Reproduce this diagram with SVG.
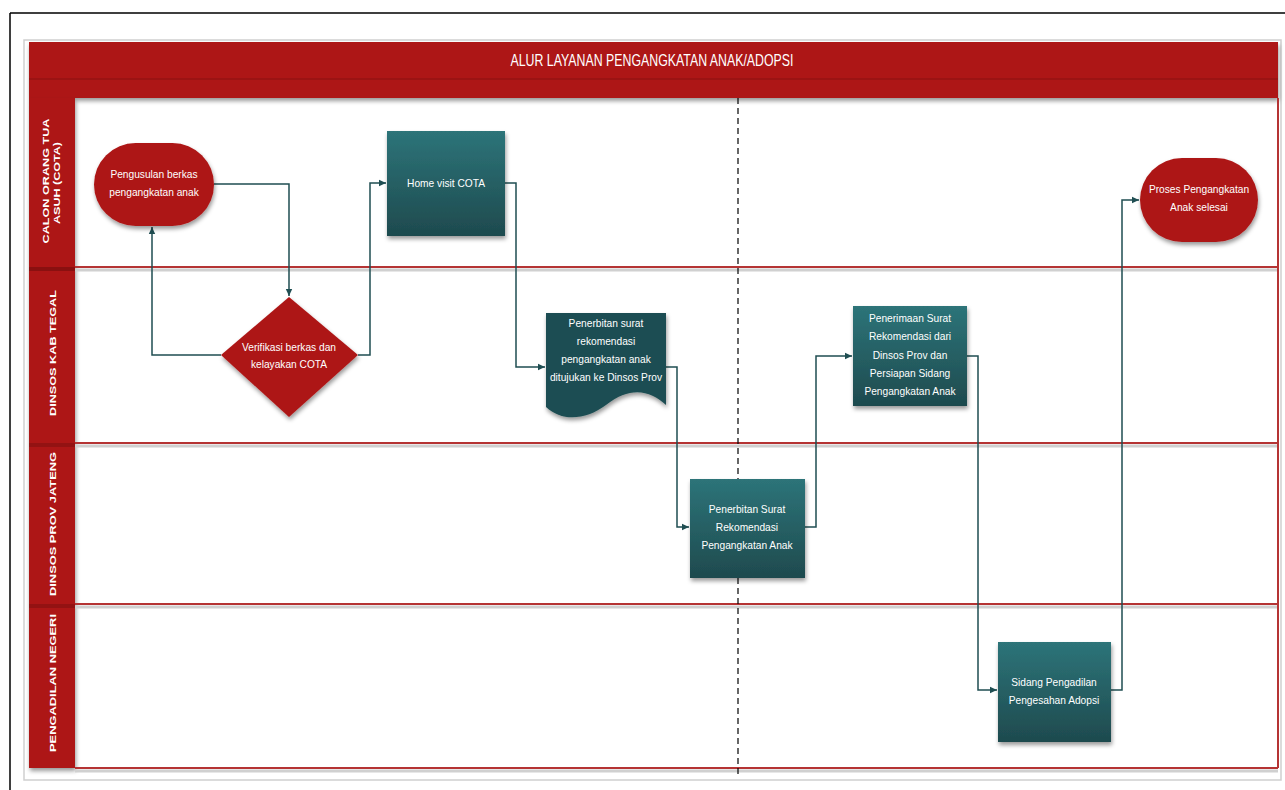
<svg xmlns="http://www.w3.org/2000/svg" width="1285" height="790" viewBox="0 0 1285 790">
<style>
.red{fill:#AD1717}
.teal{fill:url(#tg)}
.nt{font-family:"Liberation Sans",Arial,sans-serif;font-size:10.2px;fill:#fff;text-anchor:middle}
.lt{font-family:"Liberation Sans",Arial,sans-serif;font-size:9px;font-weight:bold;fill:#fff;text-anchor:middle}
.lane{stroke:#B53434;stroke-width:2;fill:none}
.lsh{stroke:#d0d0d0;stroke-width:3;fill:none}
.con{stroke:#1F4E52;stroke-width:1.5;fill:none;marker-end:url(#ah)}
</style>
<defs>
<linearGradient id="tg" x1="0" y1="0" x2="0" y2="1">
<stop offset="0" stop-color="#2D7479"/>
<stop offset="1" stop-color="#1E4A4E"/>
</linearGradient>
<filter id="sh" x="-20%" y="-20%" width="140%" height="150%">
<feDropShadow dx="1" dy="3" stdDeviation="2" flood-color="#000" flood-opacity="0.4"/>
</filter>
<marker id="ah" markerWidth="8" markerHeight="8" refX="7" refY="4" orient="auto" markerUnits="userSpaceOnUse">
<path d="M0,0.8 L7,4 L0,7.2 Z" fill="#1F4E52"/>
</marker>
</defs>
<rect x="0" y="0" width="1285" height="790" fill="#fff"/>
<path d="M10,13 H1285 M10,13 V790" stroke="#000" stroke-width="1.5" fill="none"/>
<rect x="24" y="40" width="1257" height="740" fill="#fff" stroke="#cfcfcf" stroke-width="1.5"/>
<g id="pool">
<rect x="29" y="42" width="1249" height="56" class="red" filter="url(#sh)"/>
<line x1="29" y1="79" x2="1278" y2="79" stroke="#8A1111" stroke-width="1.2"/>
<text x="652" y="66" font-family="Liberation Sans,Arial,sans-serif" font-size="17" fill="#fff" text-anchor="middle" textLength="283" lengthAdjust="spacingAndGlyphs">ALUR LAYANAN PENGANGKATAN ANAK/ADOPSI</text>
<rect x="29" y="98" width="46" height="670" class="red" filter="url(#sh)"/>
<rect x="29" y="267" width="46" height="4" fill="#7A0E0E" opacity="0.7"/>
<rect x="29" y="443" width="46" height="4" fill="#7A0E0E" opacity="0.5"/>
<rect x="29" y="604" width="46" height="4" fill="#7A0E0E" opacity="0.5"/>
<path class="lsh" d="M75,270 H1278 M75,446 H1278 M75,607 H1278 M75,771 H1278"/>
<path class="lane" d="M75,267 H1278 M75,443 H1278 M75,604 H1278 M75,768 H1278 M1278,98 V768"/>
<line x1="738" y1="98" x2="738" y2="776" stroke="#000" stroke-width="1.2" stroke-dasharray="6,4"/>
</g>
<g id="lane-labels">
<text class="lt" transform="translate(49,181) rotate(-90)" textLength="125" lengthAdjust="spacingAndGlyphs">CALON ORANG TUA</text>
<text class="lt" transform="translate(60,183) rotate(-90)" textLength="82" lengthAdjust="spacingAndGlyphs">ASUH (COTA)</text>
<text class="lt" transform="translate(56,353) rotate(-90)" textLength="126" lengthAdjust="spacingAndGlyphs">DINSOS KAB TEGAL</text>
<text class="lt" transform="translate(56,524) rotate(-90)" textLength="144" lengthAdjust="spacingAndGlyphs">DINSOS PROV JATENG</text>
<text class="lt" transform="translate(56,683) rotate(-90)" textLength="138" lengthAdjust="spacingAndGlyphs">PENGADILAN NEGERI</text>
</g>
<g id="connectors">
<path class="con" d="M214,184 H289 V296"/>
<path class="con" d="M221,355 H152 V227"/>
<path class="con" d="M358,355 H370 V183 H386"/>
<path class="con" d="M505,183 H516 V367 H545"/>
<path class="con" d="M666,367 H677 V527 H689"/>
<path class="con" d="M805,527 H816 V356 H852"/>
<path class="con" d="M967,356 H978 V690 H997"/>
<path class="con" d="M1111,690 H1122 V200 H1139"/>
</g>
<g id="n1">
<rect x="94" y="143" width="120" height="83" rx="41.5" class="red" filter="url(#sh)"/>
<text class="nt" x="154" y="178">Pengusulan berkas</text>
<text class="nt" x="154" y="196">pengangkatan anak</text>
</g>
<g id="n2">
<rect x="387" y="131" width="118" height="105" class="teal" filter="url(#sh)"/>
<text class="nt" x="446" y="187">Home visit COTA</text>
</g>
<g id="n3">
<path d="M289,297 L358,355 L289,417 L221,355 Z" class="red" filter="url(#sh)"/>
<text class="nt" x="289" y="351">Verifikasi berkas dan</text>
<text class="nt" x="289" y="368">kelayakan COTA</text>
</g>
<g id="n4">
<path d="M546,313 H666 V405 C650,390 630,386 606,405 C586,420 562,422 546,407 Z" fill="#1F4E52" filter="url(#sh)"/>
<text class="nt" x="606" y="327">Penerbitan surat</text>
<text class="nt" x="606" y="345">rekomendasi</text>
<text class="nt" x="606" y="363">pengangkatan anak</text>
<text class="nt" x="606" y="381">ditujukan ke Dinsos Prov</text>
</g>
<g id="n5">
<rect x="690" y="479" width="115" height="99" class="teal" filter="url(#sh)"/>
<text class="nt" x="747" y="513">Penerbitan Surat</text>
<text class="nt" x="747" y="531">Rekomendasi</text>
<text class="nt" x="747" y="549">Pengangkatan Anak</text>
</g>
<g id="n6">
<rect x="853" y="306" width="114" height="100" class="teal" filter="url(#sh)"/>
<text class="nt" x="910" y="322">Penerimaan Surat</text>
<text class="nt" x="910" y="340">Rekomendasi dari</text>
<text class="nt" x="910" y="359">Dinsos Prov dan</text>
<text class="nt" x="910" y="377">Persiapan Sidang</text>
<text class="nt" x="910" y="395">Pengangkatan Anak</text>
</g>
<g id="n7">
<rect x="998" y="642" width="113" height="100" class="teal" filter="url(#sh)"/>
<text class="nt" x="1054" y="686">Sidang Pengadilan</text>
<text class="nt" x="1054" y="704">Pengesahan Adopsi</text>
</g>
<g id="n8">
<rect x="1140" y="158" width="118" height="84" rx="42" class="red" filter="url(#sh)"/>
<text class="nt" x="1199" y="193">Proses Pengangkatan</text>
<text class="nt" x="1199" y="211">Anak selesai</text>
</g>
</svg>
